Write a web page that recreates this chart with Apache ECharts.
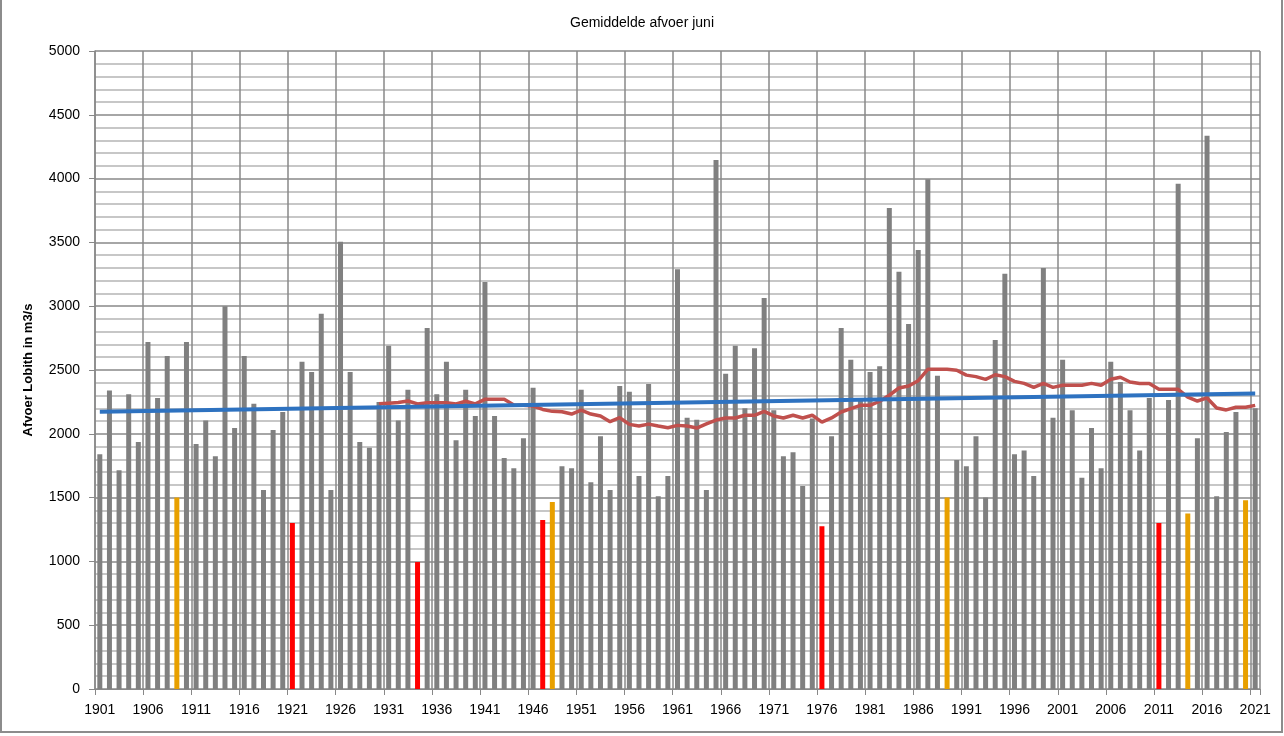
<!DOCTYPE html>
<html>
<head>
<meta charset="utf-8">
<script src="https://cdn.jsdelivr.net/npm/echarts@6/dist/echarts.min.js"></script>
<style>
html,body{margin:0;padding:0;background:#fff}
#chart{width:1284px;height:736px}
</style>
</head>
<body>
<div id="chart"></div>
<script>
// jaren 1901 - 2021
let firstYear = 1901;
let lastYear = 2021;
let years = [];
for (let y = firstYear; y <= lastYear; y++) years.push(String(y));

let afvoer = [
    1840, 2340, 1715, 2310, 1935, 2720, 2280, 2610, 1500, 2720, // 1901-1910
    1920, 2105, 1825, 3000, 2045, 2610, 2235, 1560, 2030, 2170, // 1911-1920
    1300, 2565, 2485, 2940, 1560, 3505, 2485, 1935, 1890, 2250, // 1921-1930
    2690, 2105, 2345, 995, 2830, 2310, 2565, 1950, 2345, 2140,  // 1931-1940
    3190, 2140, 1810, 1730, 1965, 2360, 1325, 1465, 1745, 1730, // 1941-1950
    2345, 1620, 1980, 1560, 2375, 2330, 1670, 2390, 1510, 1670, // 1951-1960
    3290, 2125, 2110, 1560, 4145, 2470, 2690, 2200, 2670, 3065, // 1961-1970
    2185, 1825, 1855, 1590, 2120, 1275, 1980, 2830, 2580, 2270, // 1971-1980
    2485, 2530, 3770, 3270, 2860, 3440, 3995, 2455, 1500, 1795, // 1981-1990
    1745, 1980, 1500, 2735, 3255, 1840, 1870, 1670, 3300, 2125, // 1991-2000
    2580, 2185, 1655, 2045, 1730, 2565, 2405, 2185, 1870, 2280, // 2001-2010
    1300, 2265, 3960, 1375, 1965, 4335, 1510, 2015, 2170, 1480, // 2011-2020
    2200                                                        // 2021
];
let redYears = [1921, 1934, 1947, 1976, 2011];
let orangeYears = [1909, 1948, 1989, 2014, 2020];

// 30-jarig gemiddelde, vanaf 1930
let gemStart = 1930;
let gemiddelde = [
    2235, 2240, 2245, 2257, 2234, 2244, 2244, 2244, 2234, 2255, // 1930-1939
    2234, 2270, 2270, 2270, 2226, 2224, 2218, 2191, 2176, 2173, // 1940-1949
    2155, 2186, 2155, 2140, 2095, 2126, 2074, 2061, 2076, 2061, // 1950-1959
    2048, 2066, 2061, 2045, 2077, 2108, 2124, 2124, 2145, 2145, // 1960-1969
    2176, 2140, 2124, 2145, 2124, 2145, 2092, 2124, 2171, 2197, // 1970-1979
    2223, 2223, 2255, 2302, 2359, 2375, 2416, 2505, 2505, 2505, // 1980-1989
    2498, 2460, 2448, 2427, 2463, 2448, 2411, 2395, 2364, 2395, // 1990-1999
    2364, 2380, 2380, 2380, 2395, 2380, 2427, 2443, 2406, 2395, // 2000-2009
    2395, 2349, 2349, 2349, 2288, 2257, 2281, 2202, 2187, 2208, // 2010-2019
    2208, 2223                                                  // 2020-2021
];

// lineaire trend, begin- en eindwaarde
let trendStart = 2172;
let trendEnd = 2316;

let barData = [];
for (let i = 0; i < years.length; i++) {
    let y = firstYear + i;
    let kleur = '#808080';
    if (redYears.indexOf(y) >= 0) kleur = '#ff0000';
    else if (orangeYears.indexOf(y) >= 0) kleur = '#e8a000';
    barData.push({value: afvoer[i], itemStyle: {color: kleur}});
}
let gemData = [];
for (let i = 0; i < years.length; i++) {
    let y = firstYear + i;
    gemData.push(y >= gemStart ? gemiddelde[y - gemStart] : null);
}
let trendData = [];
for (let i = 0; i < years.length; i++) trendData.push(null);
trendData[0] = trendStart;
trendData[years.length - 1] = trendEnd;

let font = 'Liberation Sans';
let chart = echarts.init(document.getElementById('chart'));
let option = {
    animation: false,
    backgroundColor: '#fff',
    title: {
        text: 'Gemiddelde afvoer juni',
        left: 'center',
        top: 11,
        textStyle: {fontFamily: font, fontSize: 14, fontWeight: 'normal', color: '#000'}
    },
    graphic: [{
        type: 'rect',
        shape: {x: 1, y: -5, width: 1281, height: 737},
        style: {fill: 'none', stroke: '#8c8c8c', lineWidth: 2},
        silent: true
    }],
    grid: {left: 95, right: 24, top: 51, bottom: 47},
    xAxis: {
        type: 'category',
        data: years,
        boundaryGap: true,
        axisLine: {lineStyle: {color: '#888', width: 1}},
        axisTick: {show: true, interval: 4, length: 6, lineStyle: {color: '#888'}},
        axisLabel: {interval: 4, margin: 14, fontFamily: font, fontSize: 14, color: '#000'},
        splitLine: {show: true, interval: 4, lineStyle: {color: '#888', width: 1.5}}
    },
    yAxis: {
        type: 'value',
        min: 0,
        max: 5000,
        interval: 500,
        name: 'Afvoer Lobith in m3/s',
        nameLocation: 'middle',
        nameGap: 60,
        nameTextStyle: {fontFamily: font, fontSize: 13, fontWeight: 'bold', color: '#000'},
        axisLine: {show: true, lineStyle: {color: '#888', width: 1.5}},
        axisTick: {show: true, length: 6, lineStyle: {color: '#888'}},
        axisLabel: {
            margin: 15, fontFamily: font, fontSize: 14, color: '#000',
            formatter: function (v) { return String(v); }
        },
        splitLine: {show: true, lineStyle: {color: '#888', width: 1.5}},
        minorTick: {show: false, splitNumber: 5},
        minorSplitLine: {show: true, lineStyle: {color: '#b5b5b5', width: 1.5}}
    },
    series: [
        {
            name: 'Afvoer',
            type: 'bar',
            data: barData,
            barWidth: 5,
            z: 2
        },
        {
            name: 'Gemiddelde',
            type: 'line',
            data: gemData,
            showSymbol: false,
            lineStyle: {color: '#c0504d', width: 3.5},
            z: 3
        },
        {
            name: 'Trend',
            type: 'line',
            data: trendData,
            connectNulls: true,
            showSymbol: false,
            lineStyle: {color: '#2e72c0', width: 4},
            z: 4
        }
    ]
};
chart.setOption(option);
</script>
</body>
</html>
